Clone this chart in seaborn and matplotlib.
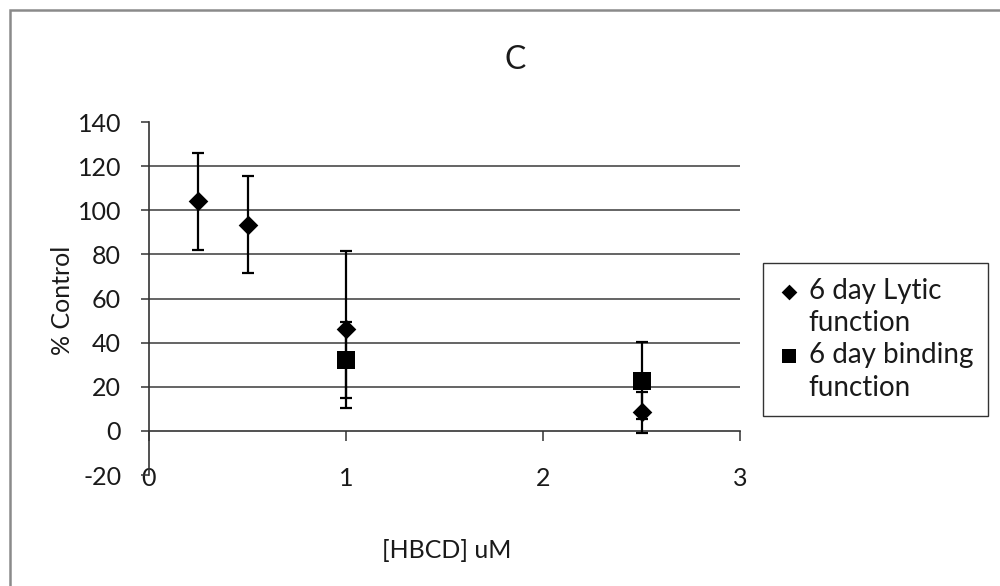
import pandas as pd
import matplotlib
matplotlib.use("Agg")
import matplotlib.pyplot as plt
import seaborn as sns
from matplotlib.patches import Rectangle
from matplotlib.lines import Line2D

# --- Data ---
lytic_x = [0.25, 0.5, 1.0, 2.5]
lytic_y = [104, 93.5, 46, 8.5]
lytic_err = [22, 22, 35.5, 9.3]

binding_x = [1.0, 2.5]
binding_y = [32, 22.8]
binding_err = [17.3, 17.5]

lytic_label = ["6 day Lytic", "function"]
binding_label = ["6 day binding", "function"]

y_ticks = [-20, 0, 20, 40, 60, 80, 100, 120, 140]
x_ticks = [0, 1, 2, 3]

TEXT = "#1a1a1a"

sns.set_style("white")
plt.rcParams['font.family'] = ['Lato', 'DejaVu Sans']
plt.rcParams['font.size'] = 18
plt.rcParams['axes.unicode_minus'] = False

df_lytic = pd.DataFrame({"x": lytic_x, "y": lytic_y, "err": lytic_err})
df_binding = pd.DataFrame({"x": binding_x, "y": binding_y, "err": binding_err})

fig = plt.figure(figsize=(10, 5.86), dpi=100)
ax = fig.add_axes([0.149, 0.1894, 0.591, 0.6024])

# error bars first, markers on top
for d in (df_lytic, df_binding):
    ax.errorbar(d["x"], d["y"], yerr=d["err"], fmt="none", ecolor="black",
                elinewidth=1.6, capsize=4.5, capthick=1.6, zorder=3)

sns.scatterplot(data=df_lytic, x="x", y="y", marker="D", s=100, color="black",
                edgecolor="black", linewidth=0, label=lytic_label[0], ax=ax, zorder=4)
sns.scatterplot(data=df_binding, x="x", y="y", marker="s", s=180, color="black",
                edgecolor="black", linewidth=0, label=binding_label[0], ax=ax, zorder=4)

ax.set_xlim(0, 3)
ax.set_ylim(-20, 140)
ax.set_xticks(x_ticks)
ax.set_yticks(y_ticks)

# Excel-style axes: x axis sits at y=0, labels pushed down
for s in ("top", "right"):
    ax.spines[s].set_visible(False)
ax.spines["bottom"].set_position(("data", 0))
ax.spines["bottom"].set_color("#333333")
ax.spines["bottom"].set_linewidth(1.2)
ax.spines["left"].set_color("#333333")
ax.spines["left"].set_linewidth(1.2)

ax.tick_params(axis="y", direction="out", length=6, width=1.1, color="#333333",
               pad=14, labelsize=18, labelcolor=TEXT, left=True)
ax.tick_params(axis="x", direction="out", length=7, width=1.1, color="#333333",
               pad=19, labelsize=18, labelcolor=TEXT, bottom=True)

ax.yaxis.grid(True, color="#3a3a3a", linewidth=1.1)
ax.xaxis.grid(False)
for val, gl in zip(y_ticks, ax.get_ygridlines()):
    if val in (-20, 0, 140):
        gl.set_visible(False)
ax.set_axisbelow(True)

ax.set_xlabel("")
ax.set_ylabel("")
fig.text(0.447, 1 - 550 / 586, "[HBCD] uM", ha="center", va="center",
         fontsize=18, color=TEXT)
fig.text(0.062, 1 - 300 / 586, "% Control", ha="center", va="center",
         rotation=90, fontsize=18, color=TEXT)
fig.text(0.515, 1 - 60 / 586, "C", ha="center", va="center",
         fontsize=23, color=TEXT)

# legend: marker next to the first line of each two-line label
handles, _ = ax.get_legend_handles_labels()
ax.get_legend().remove()
blank = Line2D([], [], linestyle="none", marker=None)
leg_handles = [handles[0], blank, handles[1], blank]
leg_labels = [lytic_label[0], lytic_label[1], binding_label[0], binding_label[1]]
leg = fig.legend(leg_handles, leg_labels, loc="upper left",
                 bbox_to_anchor=(0.763, 1 - 263 / 586), fontsize=20,
                 frameon=True, fancybox=False, edgecolor="black",
                 handlelength=0.8, handletextpad=0.3, labelspacing=0.22,
                 borderpad=0.55, borderaxespad=0, markerscale=0.8)
leg.get_frame().set_linewidth(1.0)
for t in leg.get_texts():
    t.set_color(TEXT)

# outer chart border (runs off the right and bottom edges)
fig.patches.append(Rectangle((0.0095, -0.2), 1.5, 1 - 9.5 / 586 + 0.2,
                             transform=fig.transFigure, fill=False,
                             edgecolor="#8a8a8a", linewidth=1.8))

fig.savefig("out.png", dpi=100)
